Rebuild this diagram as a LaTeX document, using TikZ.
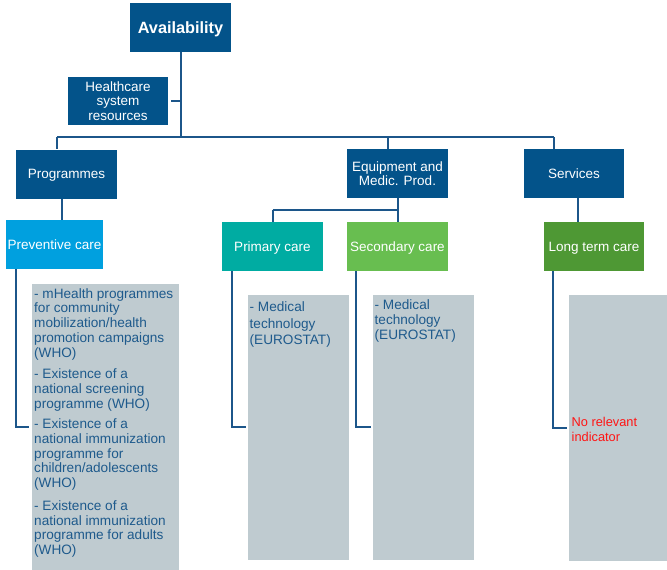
\documentclass[tikz,border=0pt]{standalone}
\usepackage{fontspec}
\setmainfont{Liberation Sans}
\usetikzlibrary{calc}
\definecolor{boxblue}{RGB}{3,83,138}
\definecolor{lineblue}{RGB}{28,86,138}
\definecolor{prevblue}{RGB}{0,160,223}
\definecolor{primteal}{RGB}{0,172,162}
\definecolor{secgreen}{RGB}{104,190,80}
\definecolor{longgreen}{RGB}{78,152,52}
\definecolor{indgray}{RGB}{191,203,208}
\definecolor{indblue}{RGB}{30,90,140}
\definecolor{nored}{RGB}{255,20,20}
\begin{document}
\begin{tikzpicture}[x=1pt,y=-1pt,
  box/.style={fill=#1, text=white, minimum height=49pt, inner sep=0pt, align=center,
    font=\fontsize{13.5}{14.5}\selectfont},
  box/.default=boxblue,
  one/.style={text height=9.7pt, text depth=0pt},
  graybox/.style={fill=indgray, inner sep=0pt},
  ind/.style={text=indblue, align=left, inner sep=0pt, anchor=north west},
  conn/.style={draw=lineblue, line width=2pt}
]
\useasboundingbox (0,0) rectangle (667,570);

% top level
\node[box, minimum width=101pt, text height=11.7pt, text depth=0pt, font=\fontsize{16.3}{18}\selectfont\bfseries] (avail) at (180.5,27.5) {Availability};
\node[box, minimum width=100pt, minimum height=48pt] (hsr) at (118,101) {Healthcare\\system\\resources};

% second level
\node[box, one, minimum width=101pt] (prog) at (66.5,174) {Programmes};
\node[box, minimum width=101pt, font=\fontsize{13.5}{14}\selectfont] (equip) at (397.5,173.5) {Equipment and\\Medic. Prod.};
\node[box, one, minimum width=100pt] (serv) at (574,173.5) {Services};

% third level
\node[box=prevblue, one, minimum width=97pt] (prev) at (54.5,244.5) {Preventive care};
\node[box=primteal, one, minimum width=101pt] (prim) at (272.5,246.5) {Primary care};
\node[box=secgreen, one, minimum width=101pt] (sec) at (397.5,246.5) {Secondary care};
\node[box=longgreen, one, minimum width=100pt] (long) at (594,246.5) {Long term care};

% indicator boxes
\node[graybox, minimum width=147pt, minimum height=286pt] (g1) at (105.5,427) {};
\node[graybox, minimum width=101pt, minimum height=265pt] (g2) at (298.5,427.5) {};
\node[graybox, minimum width=101pt, minimum height=265pt] (g3) at (423.5,427.5) {};
\node[graybox, minimum width=98pt, minimum height=266pt] (g4) at (618,428) {};

\node[ind, font=\fontsize{13.6}{14.7}\selectfont] (t1) at (34,288.2) {- mHealth programmes\\for community\\mobilization/health\\promotion campaigns\\(WHO)\\[7pt]- Existence of a\\national screening\\programme (WHO)\\[6pt]- Existence of a\\national immunization\\programme for\\children/adolescents\\(WHO)\\[8pt]- Existence of a\\national immunization\\programme for adults\\(WHO)};
\node[ind, font=\fontsize{13.6}{16.8}\selectfont] (t2) at (249.5,301.2) {- Medical\\technology\\(EUROSTAT)};
\node[ind, font=\fontsize{13.6}{15}\selectfont] (t3) at (374.5,299.2) {- Medical\\technology\\(EUROSTAT)};
\node[ind, text=nored, font=\fontsize{12.8}{15}\selectfont] (t4) at (571.5,417) {No relevant\\indicator};

% connectors
\coordinate (trunk) at (181,137);
\draw[conn] (avail.south) -- (avail.south |- trunk);
\draw[conn] ($(hsr.east)+(3,0)$) -- ($(hsr.east)+(14,0)$);
\coordinate (jprog) at (57,137);
\coordinate (jequip) at (388,137);
\coordinate (jserv) at (554,137);
\draw[conn] (jprog) -- (jserv);
\draw[conn] (jprog) -- (jprog |- prog.north);
\draw[conn] (jequip) -- (jequip |- equip.north);
\draw[conn] (jserv) -- (jserv |- serv.north);

\coordinate (pb) at (62,0);
\draw[conn] (pb |- prog.south) -- (pb |- prev.north);

\coordinate (eb) at (398,210);
\coordinate (pj) at (272.5,210);
\draw[conn] (eb |- equip.south) -- (eb |- sec.north);
\draw[conn] (pj) -- (eb);
\draw[conn] (pj) -- (prim.north);

\coordinate (sb) at (578,0);
\draw[conn] (sb |- serv.south) -- (sb |- long.north);

% brackets
\draw[conn] (16,0 |- prev.south) -- (16,427) -- ($(g1.west |- 0,427)+(-3,0)$);
\draw[conn] (232,0 |- prim.south) -- (232,427) -- ($(g2.west |- 0,427)+(-2,0)$);
\draw[conn] (356,0 |- sec.south) -- (356,427) -- ($(g3.west |- 0,427)+(-2,0)$);
\draw[conn] (553,0 |- long.south) -- (553,428) -- ($(g4.west |- 0,428)+(-2,0)$);
\end{tikzpicture}
\end{document}
